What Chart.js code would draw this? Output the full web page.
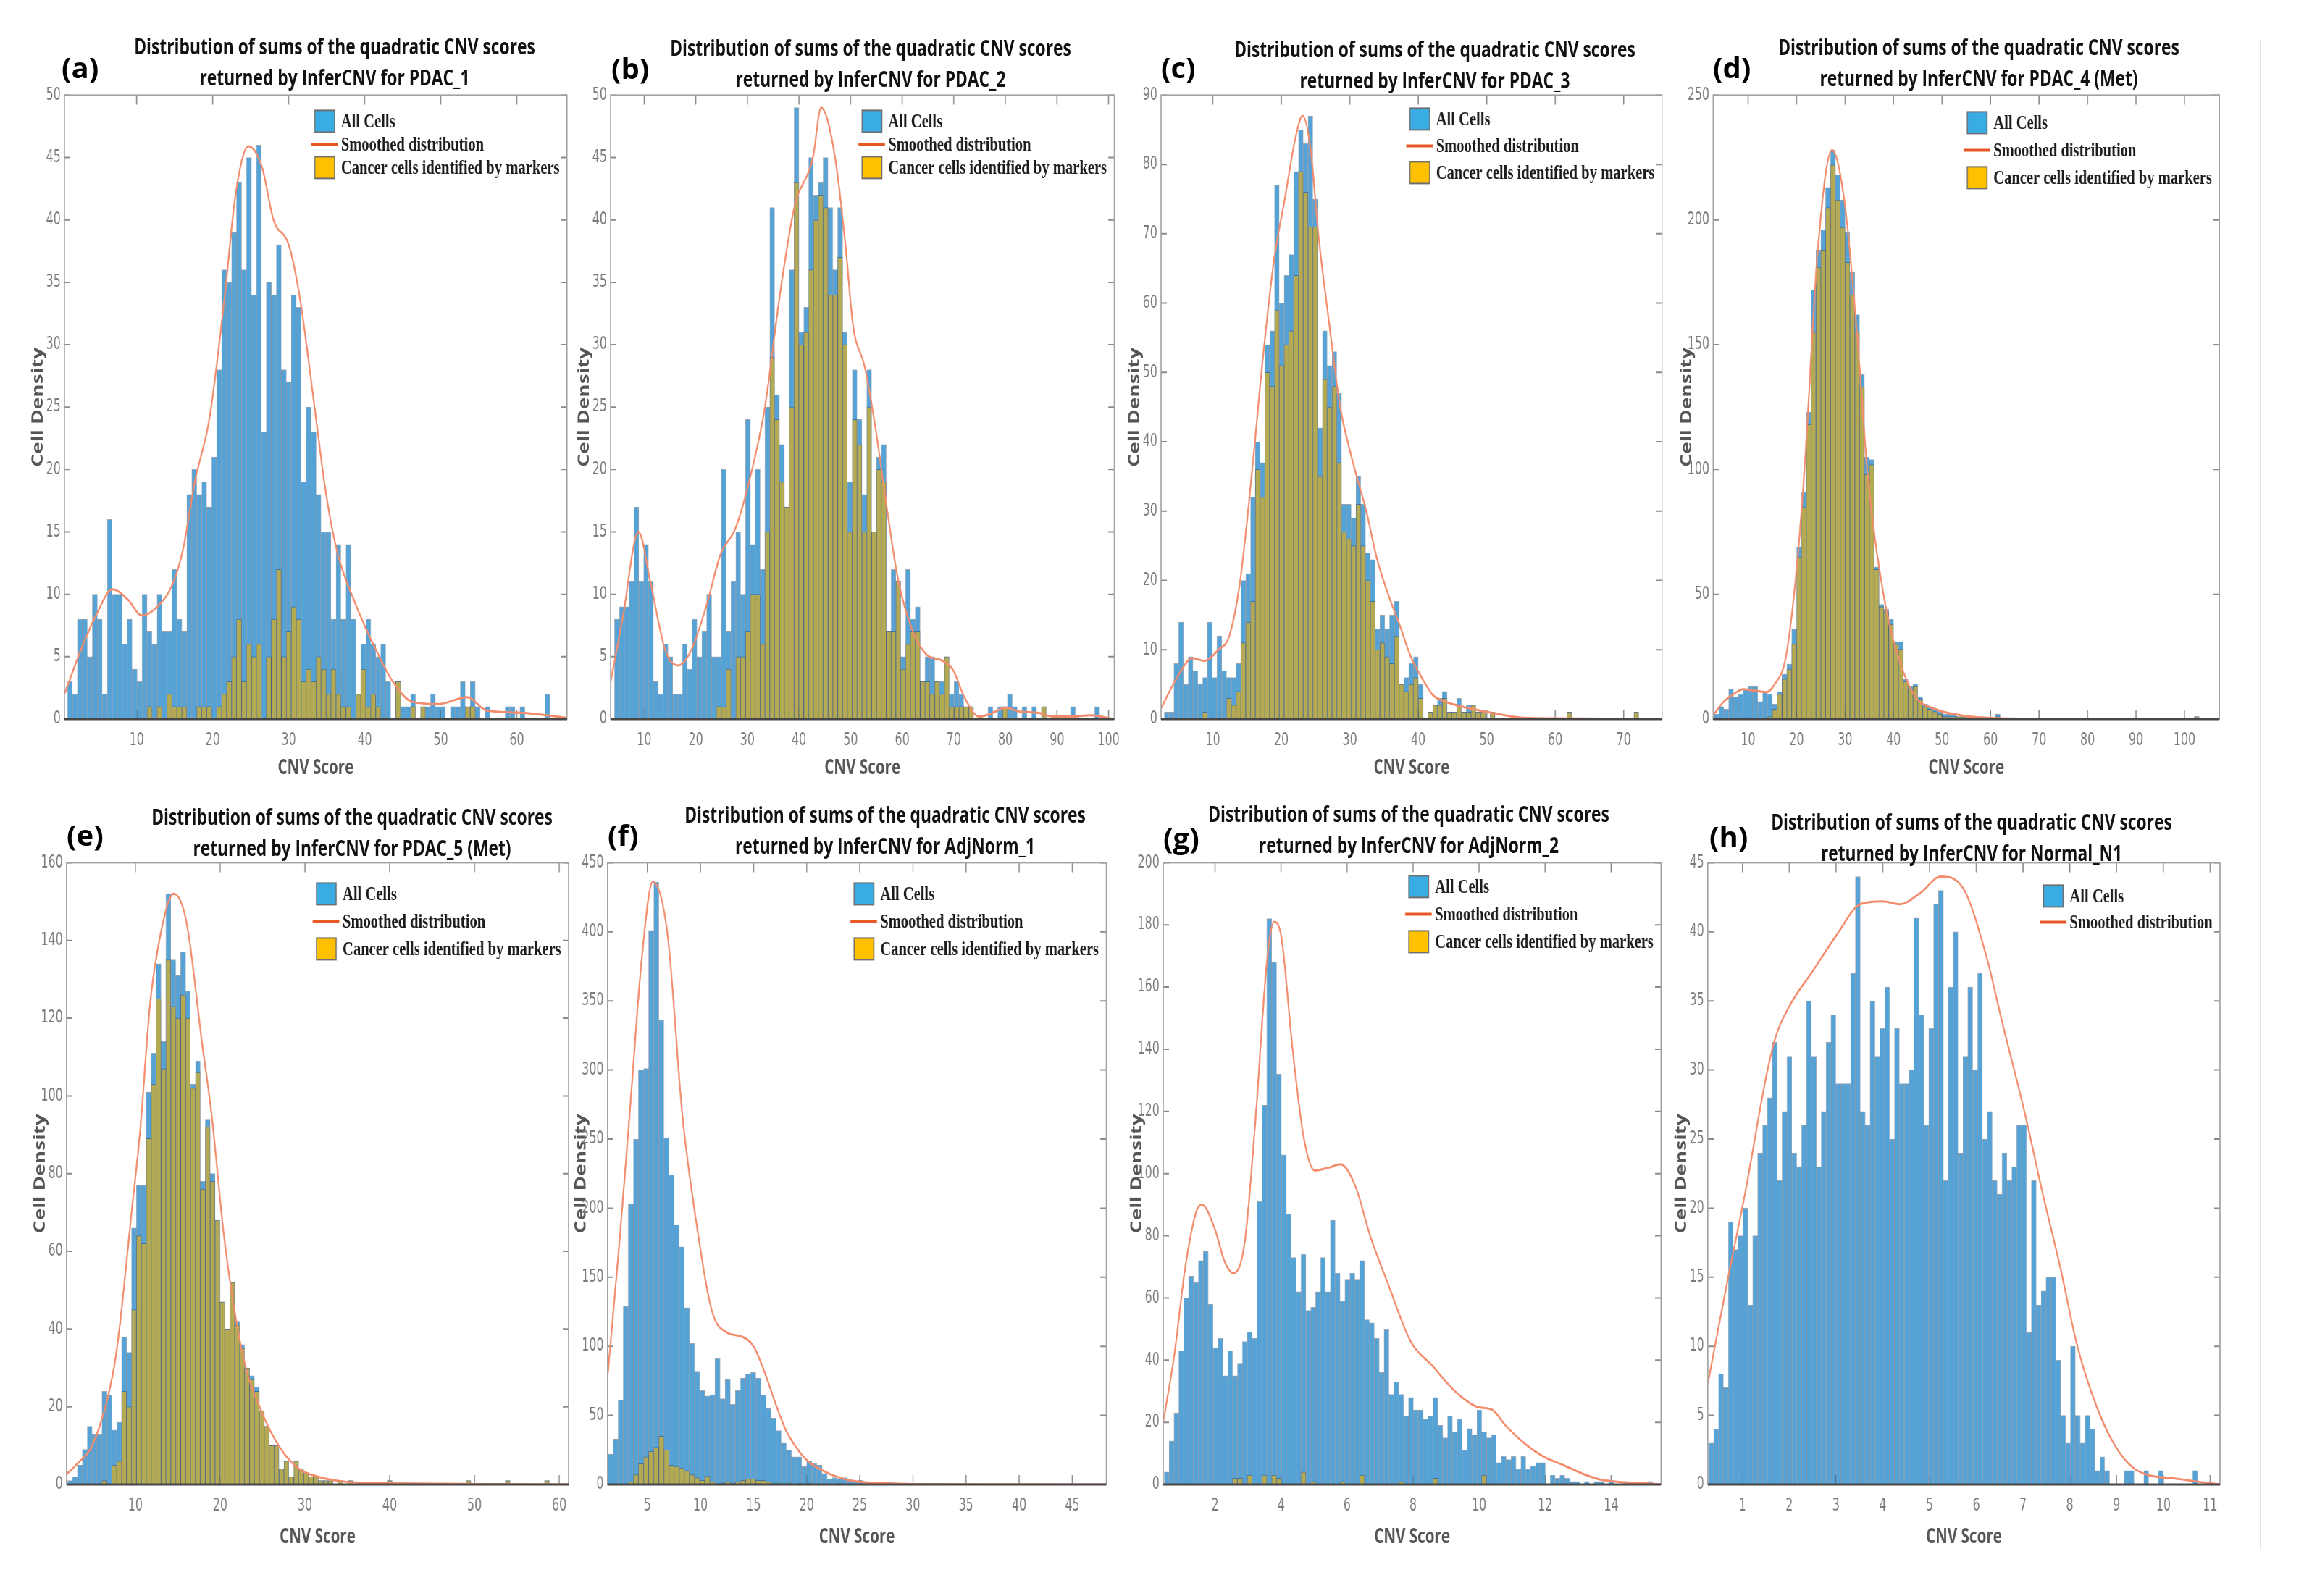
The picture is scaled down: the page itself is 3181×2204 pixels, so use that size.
<!DOCTYPE html>
<html><head><meta charset="utf-8">
<script src="https://cdn.jsdelivr.net/npm/chart.js"></script>
<style>
html,body{margin:0;padding:0;background:#fff;overflow:hidden;}
#page{position:relative;width:3181px;height:2204px;overflow:hidden;background:#fff;}
#squeeze{position:absolute;left:0;top:0;width:4328px;height:2204px;transform:scaleX(0.735);transform-origin:0 0;}
.ttl{position:absolute;width:1100px;text-align:center;font-family:'Open Sans',sans-serif;font-weight:700;font-size:31px;line-height:43px;color:#111;white-space:nowrap;}
.tag{position:absolute;font-family:'Open Sans',sans-serif;font-weight:700;font-size:40px;line-height:48px;color:#000;white-space:nowrap;}
#rule{position:absolute;left:3120px;top:55px;width:2px;height:2085px;background:#e4e4e4;}
</style></head><body>
<div id="page"><div id="squeeze"></div><div id="rule"></div></div>
<script>
// ---------------- DATA ----------------
// (a) PDAC_1
const binStartA = 0.9, binWidthA = 0.654;
const allA = [3,2,8,8,5,10,8,2,16,10,10,6,8,4,3,10,7,6,10,7,7,12,8,7,18,20,18,19,17,21,28,36,35,39,43,36,45,34,46,23,35,34,38,28,27,34,33,19,25,23,18,15,15,8,14,8,14,8,2,6,8,6,5,6,3,0,3,1,1,2,0,1,1,2,1,1,0,1,1,3,1,3,1,0,1,0,0,0,1,1,0,1,0,0,0,0,2];
const cancerA = [0,0,0,0,0,0,0,0,0,0,0,0,0,0,0,0,1,0,1,0,2,1,1,1,0,0,1,1,1,0,1,2,3,5,8,3,6,5,6,0,5,8,12,5,7,9,8,3,4,3,5,4,2,4,2,1,1,0,2,4,1,2,1,0,0,0,3,0,0,1,0,1,0,0,0,0,0,0,0,0,1,1,0,0,0,0,0,0,0,0,0,0,0,0,0,0,0];
const smoothXA = [0.5,2.9,4.8,6.8,8.8,10.7,12.7,14.7,16.1,17.6,19.6,21.6,23,24.7,26.5,28,30,31.4,33.4,34.8,36.3,38.8,41.2,43.7,46.2,49.6,53.5,56,60.9,66.6];
const smoothYA = [2,5.9,8.5,10.4,9.6,8.3,9,10.8,13.6,18.9,24.2,34,42,45.9,44.2,40,38,34,25,18.5,13.6,9.2,5.9,3,1.4,1.2,1.75,0.7,0.5,0.1];
const xTicksA = [10,20,30,40,50,60];
const yTicksA = [0,5,10,15,20,25,30,35,40,45,50];
const xRangeA = [0.5,66.6];

// (b) PDAC_2
const binStartB = 4.26, binWidthB = 0.94;
const allB = [8,9,9,11,17,11,14,11,3,2,6,5,2,2,6,4,8,5,7,10,5,5,20,7,11,15,10,24,14,20,12,25,41,26,22,17,36,49,31,33,45,42,43,45,41,36,41,31,19,28,24,18,28,15,21,22,7,12,11,5,12,8,9,3,5,5,3,3,5,2,3,2,1,1,0,0,0,1,0,1,1,2,1,0,1,0,1,0,1,0,0,0,0,0,1,0,0,0,0,1];
const cancerB = [0,0,0,0,0,0,0,0,0,0,0,0,0,0,0,0,0,0,0,0,0,1,1,4,0,5,5,7,10,10,6,15,29,24,19,17,25,43,30,31,36,40,42,41,34,34,37,30,15,24,22,15,25,15,20,19,7,7,11,4,6,7,7,3,3,2,3,2,5,1,1,1,1,1,0,0,0,0,0,0,1,0,0,0,0,0,0,0,1,0,0,0,0,0,0,0,0,0,0,0];
const smoothXB = [3.5,5.8,8.9,11.2,14.1,16.6,19.1,22,24.8,27.7,30.5,33.4,36.3,39.1,42.7,44.3,47,49,50.5,52.7,54.8,57,59.2,62,64.9,67.7,69.9,72,74.9,77,80,82.8,86.4,89.2,92.8,96.4,101.1];
const smoothYB = [3,8,15,11,5.5,4.3,5.5,9,13.2,15.3,19.3,25,34,41,45,49,45,38,31.5,28.3,23.4,17,11.2,7.1,5.1,4.7,3.9,1.8,0.2,0.4,0.9,0.6,0.5,0.2,0.2,0.3,0];
const xTicksB = [10,20,30,40,50,60,70,80,90,100];
const yTicksB = [0,5,10,15,20,25,30,35,40,45,50];
const xRangeB = [3.5,101.1];

// (c) PDAC_3
const binStartC = 2.9, binWidthC = 0.70;
const allC = [1,1,8,14,5,9,7,5,6,14,6,12,7,6,6,8,20,21,32,40,37,54,56,77,60,64,67,79,85,83,87,75,42,56,51,53,47,31,31,29,35,31,24,23,13,15,13,15,17,5,6,8,9,5,0,1,2,3,4,1,1,3,1,2,2,1,1,0,1,0,0,0,0,0,0,0,0,0,0,0,0,0,0,0,1,0,0,0,0,0,0,0,0,0,0,0,0,0,1,0];
const cancerC = [0,0,0,0,0,0,0,0,1,0,0,0,0,3,2,4,11,14,17,36,32,50,48,59,51,54,56,64,79,76,71,71,35,49,45,48,37,27,26,25,31,25,20,17,10,11,9,8,12,5,4,5,6,3,0,1,2,2,3,1,1,2,1,1,2,1,1,0,1,0,0,0,0,0,0,0,0,0,0,0,0,0,0,0,1,0,0,0,0,0,0,0,0,0,0,0,0,0,1,0];
const smoothXC = [2.4,4.9,7.0,8.7,10.8,12.4,14,15.7,17.3,18.9,20.5,22.1,23.1,24.3,25.4,27,28.6,30.2,32.4,34,35.6,37.3,38.9,40.5,42.1,43.7,46.4,49.1,51.8,55,59.9,75.6];
const smoothYC = [1.5,6.2,8.8,8.4,10,12,20,35.5,52,66,75,84,87,82,70,57,45,38,30,23,18,13.5,9,6,3.5,2.6,1.8,1.2,0.7,0.2,0.1,0];
const xTicksC = [10,20,30,40,50,60,70];
const yTicksC = [0,10,20,30,40,50,60,70,80,90];
const xRangeC = [2.44,75.6];

// (d) PDAC_4 (Met)
const binStartD = 3.0, binWidthD = 1.0;
const allD = [2,5,4,12,9,10,12,13,13,7,11,10,6,11,18,22,36,69,91,123,172,188,196,213,228,218,208,195,179,162,138,105,104,61,46,44,40,31,31,16,13,14,9,6,5,4,3,2,2,2,1,1,1,0,0,1,0,0,2,0,0,0,0,0,0,0,0,0,0,0,0,0,0,0,0,0,0,0,0,0,0,0,0,0,0,0,0,0,0,0,0,0,0,0,0,0,0,0,0,1];
const cancerD = [0,0,0,0,0,0,0,0,0,0,0,1,4,10,16,20,30,65,85,118,155,181,188,205,222,208,197,183,170,155,133,98,102,60,45,43,38,30,28,15,12,13,8,5,4,3,2,1,1,1,1,1,0,0,0,0,0,0,1,0,0,0,0,0,0,0,0,0,0,0,0,0,0,0,0,0,0,0,0,0,0,0,0,0,0,0,0,0,0,0,0,0,0,0,0,0,0,0,0,1];
const smoothXD = [3,5,7,9,11,13.7,15.5,17.8,20.2,21.8,24.3,27.3,29.9,32.4,34.8,38.1,41.3,44.5,48.6,54.3,60,70,107.2];
const smoothYD = [2,7,10,12,11.5,10.8,14,25,64,105,186,228,207,156,95,48,23,9,4,1.4,0.4,0.1,0];
const xTicksD = [10,20,30,40,50,60,70,80,90,100];
const yTicksD = [0,50,100,150,200,250];
const xRangeD = [2.8,107.2];

// (e) PDAC_5 (Met)
const binStartE = 2.0, binWidthE = 0.58;
const allE = [1,2,5,9,15,13,13,24,23,14,16,38,34,66,77,77,101,111,134,114,152,135,131,137,127,103,109,78,94,80,68,47,40,52,42,36,30,28,25,19,15,10,10,4,6,2,6,4,3,2,2,1,1,1,0,1,0,1,0,0,0,0,0,0,0,1,0,0,0,0,0,0,0,0,0,0,0,0,0,0,0,1,0,0,0,0,0,0,0,1,0,0,0,0,0,0,0,1,0,0];
const cancerE = [0,0,0,0,0,0,0,1,0,5,6,24,20,45,64,62,89,103,125,107,135,123,120,126,120,102,106,76,92,78,68,47,40,52,41,35,30,27,24,19,15,10,10,4,6,2,6,4,3,2,2,1,1,1,0,1,0,1,0,0,0,0,0,0,0,1,0,0,0,0,0,0,0,0,0,0,0,0,0,0,0,1,0,0,0,0,0,0,0,1,0,0,0,0,0,0,0,1,0,0];
const smoothXE = [1.9,3,5.1,7.3,8,9.5,10.6,11.7,13,14.5,16,17.9,19,20.5,22.7,24.9,27.1,29.3,31.5,33.7,36,40,50,61.1];
const smoothYE = [2.7,5,11,28,38,69,92,123,142,152,145,113,95,63,33,18.7,9.3,4,2,1,0.5,0.3,0.1,0];
const xTicksE = [10,20,30,40,50,60];
const yTicksE = [0,20,40,60,80,100,120,140,160];
const xRangeE = [1.88,61.1];

// (f) AdjNorm_1
const binStartF = 1.28, binWidthF = 0.48;
const allF = [22,33,61,129,203,250,300,301,401,436,336,251,224,188,172,128,102,82,68,64,65,91,62,76,58,68,77,80,81,77,65,55,48,39,30,25,20,20,13,17,15,14,8,4,5,4,5,3,2,3,2,1,2,1,1,1,1,0,1,0,0,0,0,0,0,0,0,0,0,0,0,0,0,0,0,0,0,0,0,0,0,0,0,0,0,0,0,0,0,0,0,0,0,0,0,0,0,0,0,0];
const cancerF = [0,0,0,0,2,7,15,20,24,27,35,25,14,13,12,10,7,5,3,6,2,0,1,2,1,2,3,4,4,3,3,2,1,1,0,1,0,1,0,1,0,0,0,0,0,1,0,0,0,0,0,0,0,0,0,0,0,0,0,0,0,0,0,0,0,0,0,0,0,0,0,0,0,0,0,0,0,0,0,0,0,0,0,0,0,0,0,0,0,0,0,0,0,0,0,0,0,0,0,0];
const smoothXF = [1.24,2.4,3.4,4.5,5.5,6.9,8.3,9.7,11.1,12.5,13.9,15,16,17,18,19,20.1,22.2,24.3,27,30,48.2];
const smoothYF = [77,178,275,383,436,398,267,185,125,110,107,100,82,60,40,27,17,7.5,2.6,1,0.3,0];
const xTicksF = [5,10,15,20,25,30,35,40,45];
const yTicksF = [0,50,100,150,200,250,300,350,400,450];
const xRangeF = [1.24,48.2];

// (g) AdjNorm_2
const binStartG = 0.46, binWidthG = 0.148;
const allG = [4,14,23,43,60,67,65,72,75,58,44,47,35,43,35,39,46,49,47,91,122,182,168,132,106,87,73,62,74,56,57,62,73,62,85,68,59,66,68,66,72,53,52,47,36,50,29,33,29,22,28,24,24,21,22,28,19,15,22,17,21,11,18,16,24,17,15,16,7,9,8,9,5,9,5,6,7,7,0,3,2,3,2,1,1,0,1,0,1,1,0,1,0,0,1,0,0,0,0,1];
const cancerG = [0,0,0,0,0,0,0,0,0,0,0,0,0,0,2,2,0,3,0,0,3,0,3,2,0,0,0,0,4,0,1,0,0,0,0,0,1,0,0,0,3,0,0,0,0,0,0,0,1,0,0,0,0,0,0,2,0,0,0,0,0,0,0,0,0,3,0,0,0,0,0,0,0,0,0,0,0,0,0,0,0,0,0,0,0,0,0,0,0,0,0,0,0,0,0,0,0,0,0,0];
const smoothXG = [0.43,0.77,1.1,1.44,1.6,2,2.28,2.56,2.9,3.23,3.57,3.79,4.01,4.35,4.68,5.02,5.47,5.8,6.25,6.7,7.26,7.93,8.6,9.27,9.94,10.4,10.8,11.4,11.95,12.6,13.2,13.7,14.4,15.1,15.51];
const smoothYG = [20,42,70,88,90,82,72,68,78,118,168,181,176,140,112,101,102,103,96,80,64,46,38,30,25,24,19,13,9,6,3.2,1.5,0.7,0.3,0];
const xTicksG = [2,4,6,8,10,12,14];
const yTicksG = [0,20,40,60,80,100,120,140,160,180,200];
const xRangeG = [0.43,15.51];

// (h) Normal_N1
const binStartH = 0.28, binWidthH = 0.1045;
const allH = [3,4,8,7,19,17,18,20,13,18,24,26,28,32,22,27,31,24,23,26,35,31,23,27,32,34,29,29,29,37,44,27,26,35,31,33,36,25,33,29,29,30,41,34,26,33,42,43,22,36,40,24,31,36,30,37,25,27,22,21,24,22,23,26,26,11,22,13,14,15,15,9,5,3,10,5,3,5,4,1,2,1,0,0,0,1,1,0,0,1,0,0,1,0,0,0,0,0,0,1];
const smoothXH = [0.26,0.66,1.08,1.5,1.71,2.0,2.51,3.02,3.52,4.0,4.36,4.8,5.24,5.71,6.21,6.55,7.05,7.39,7.81,8.14,8.48,8.9,9.4,10.33,11.21];
const smoothYH = [7.3,14.4,21.5,29.4,32.4,34.6,37.2,39.8,42,42.2,42,42.8,44,43.2,38.3,33.5,26.7,21.5,15.5,10.3,6.5,3.2,1.1,0.4,0];
const xTicksH = [1,2,3,4,5,6,7,8,9,10,11];
const yTicksH = [0,5,10,15,20,25,30,35,40,45];
const xRangeH = [0.26,11.21];

const sampleNames = ['PDAC_1','PDAC_2','PDAC_3','PDAC_4 (Met)','PDAC_5 (Met)','AdjNorm_1','AdjNorm_2','Normal_N1'];
const panelTags = ['(a)','(b)','(c)','(d)','(e)','(f)','(g)','(h)'];

// ---------------- LAYOUT / STYLE ----------------
const S = 0.735;               // horizontal squeeze of the whole figure
const W_Y = 66, PAD_R = 30, PAD_T = 20;
const BLUE = 'rgb(84,162,214)', OLIVE = 'rgb(181,170,84)', EDGE = 'rgba(35,60,90,0.45)', CURVE = 'rgb(242,140,108)';
const SW_BLUE = 'rgb(58,172,228)', SW_YELLOW = 'rgb(255,192,0)', SW_LINE = 'rgb(232,88,36)';
const TICK_FONT = "'Liberation Sans Narrow','Arial Narrow','DejaVu Sans Condensed','Liberation Sans',sans-serif";

const frames = [
  {L:89,  R:783,  T:130,  B:993,  hx:85, tx:462,  ty:63,   tagX:85,   tagY:93,   lgTop:36, lgPitch:32},
  {L:843, R:1538, T:130,  B:993,  hx:85, tx:1202, ty:65,   tagX:844,  tagY:94,   lgTop:36, lgPitch:32},
  {L:1603,R:2295, T:130,  B:993,  hx:85, tx:1981, ty:67,   tagX:1603, tagY:93,   lgTop:33, lgPitch:37},
  {L:2365,R:3064, T:130,  B:993,  hx:85, tx:2732, ty:64,   tagX:2365, tagY:93,   lgTop:38, lgPitch:38},
  {L:92,  R:785,  T:1190, B:2050, hx:90, tx:486,  ty:1127, tagX:92,   tagY:1153, lgTop:43, lgPitch:38},
  {L:839, R:1528, T:1190, B:2050, hx:90, tx:1222, ty:1124, tagX:839,  tagY:1153, lgTop:43, lgPitch:38},
  {L:1606,R:2293, T:1190, B:2050, hx:90, tx:1945, ty:1123, tagX:1606, tagY:1157, lgTop:33, lgPitch:38},
  {L:2358,R:3065, T:1190, B:2050, hx:90, tx:2722, ty:1134, tagX:2360, tagY:1155, lgTop:46, lgPitch:36}
];

const panels = [
  {bs:binStartA, bw:binWidthA, all:allA, cancer:cancerA, sx:smoothXA, sy:smoothYA, xt:xTicksA, yt:yTicksA, xr:xRangeA},
  {bs:binStartB, bw:binWidthB, all:allB, cancer:cancerB, sx:smoothXB, sy:smoothYB, xt:xTicksB, yt:yTicksB, xr:xRangeB},
  {bs:binStartC, bw:binWidthC, all:allC, cancer:cancerC, sx:smoothXC, sy:smoothYC, xt:xTicksC, yt:yTicksC, xr:xRangeC},
  {bs:binStartD, bw:binWidthD, all:allD, cancer:cancerD, sx:smoothXD, sy:smoothYD, xt:xTicksD, yt:yTicksD, xr:xRangeD},
  {bs:binStartE, bw:binWidthE, all:allE, cancer:cancerE, sx:smoothXE, sy:smoothYE, xt:xTicksE, yt:yTicksE, xr:xRangeE},
  {bs:binStartF, bw:binWidthF, all:allF, cancer:cancerF, sx:smoothXF, sy:smoothYF, xt:xTicksF, yt:yTicksF, xr:xRangeF},
  {bs:binStartG, bw:binWidthG, all:allG, cancer:cancerG, sx:smoothXG, sy:smoothYG, xt:xTicksG, yt:yTicksG, xr:xRangeG},
  {bs:binStartH, bw:binWidthH, all:allH, cancer:null,    sx:smoothXH, sy:smoothYH, xt:xTicksH, yt:yTicksH, xr:xRangeH}
];

function bins(start, width, counts) { return counts.map((c, i) => ({x: start + (i + 0.5) * width, y: c})); }
function curve(xs, ys) { return xs.map((x, i) => ({x: x, y: ys[i]})); }

// MATLAB-like box with inward ticks on all sides
const framePlugin = {
  id: 'matlabFrame',
  beforeDatasetsDraw(chart) {
    const {ctx, chartArea: a, scales} = chart;
    ctx.save();
    ctx.strokeStyle = '#8a8a8a'; ctx.lineWidth = 2;
    ctx.beginPath();
    scales.x.ticks.forEach(t => {
      const px = scales.x.getPixelForValue(t.value);
      ctx.moveTo(px, a.bottom); ctx.lineTo(px, a.bottom - 13);
      ctx.moveTo(px, a.top); ctx.lineTo(px, a.top + 13);
    });
    scales.y.ticks.forEach(t => {
      const py = scales.y.getPixelForValue(t.value);
      ctx.moveTo(a.left, py); ctx.lineTo(a.left + 11, py);
      ctx.moveTo(a.right, py); ctx.lineTo(a.right - 11, py);
    });
    ctx.stroke();
    ctx.restore();
  },
  afterDatasetsDraw(chart) {
    const {ctx, chartArea: a} = chart;
    ctx.save();
    ctx.strokeStyle = '#a2a2a2'; ctx.lineWidth = 2;
    ctx.strokeRect(a.left, a.top, a.right - a.left, a.bottom - a.top);
    ctx.strokeStyle = '#474747'; ctx.lineWidth = 3;
    ctx.beginPath(); ctx.moveTo(a.left, a.bottom); ctx.lineTo(a.right, a.bottom); ctx.stroke();
    ctx.restore();
  }
};

// Legend drawn inside the plot, right-aligned like the MATLAB one
const boxLegend = {
  id: 'boxLegend',
  afterDraw(chart, args, opts) {
    const {ctx, chartArea: a} = chart;
    const items = chart.data.datasets.map(d => ({text: d.label, kind: d.legendKind, color: d.legendColor}));
    ctx.save();
    ctx.font = "bold 28px 'Liberation Serif','Times New Roman',serif";
    const tw = Math.max(...items.map(i => ctx.measureText(i.text).width));
    const textX = a.right - 14 - tw;
    const boxW = 37, boxH = 30, gap = 12;
    const boxX = textX - gap - boxW;
    items.forEach((it, k) => {
      const cy = a.top + opts.firstRow + k * opts.pitch;
      if (it.kind === 'box') {
        ctx.fillStyle = it.color; ctx.fillRect(boxX, cy - boxH / 2, boxW, boxH);
        ctx.strokeStyle = '#6e6e6e'; ctx.lineWidth = 2; ctx.strokeRect(boxX, cy - boxH / 2, boxW, boxH);
      } else {
        ctx.strokeStyle = it.color; ctx.lineWidth = 4;
        ctx.beginPath(); ctx.moveTo(boxX - 7, cy); ctx.lineTo(boxX + boxW + 6, cy); ctx.stroke();
      }
      ctx.fillStyle = '#1c1c1c'; ctx.textBaseline = 'middle'; ctx.textAlign = 'left';
      ctx.fillText(it.text, textX, cy + 1);
    });
    ctx.restore();
  }
};

Chart.defaults.font.family = "'Liberation Sans',sans-serif";
const squeeze = document.getElementById('squeeze');
const page = document.getElementById('page');

panels.forEach((p, idx) => {
  const f = frames[idx];
  const plotW = (f.R - f.L) / S, plotH = f.B - f.T;
  const cw = Math.round(W_Y + plotW + PAD_R), ch = Math.round(PAD_T + plotH + f.hx);
  const canvas = document.createElement('canvas');
  canvas.width = cw; canvas.height = ch;
  canvas.style.cssText = 'position:absolute;left:' + (f.L / S - W_Y) + 'px;top:' + (f.T - PAD_T) + 'px;width:' + cw + 'px;height:' + ch + 'px;';
  squeeze.appendChild(canvas);

  const ttl = document.createElement('div');
  ttl.className = 'ttl';
  ttl.style.left = (f.tx / S - 550) + 'px';
  ttl.style.top = (f.ty - 21.5) + 'px';
  ttl.innerHTML = 'Distribution of sums of the quadratic CNV scores<br>returned by InferCNV for ' + sampleNames[idx];
  squeeze.appendChild(ttl);

  const tag = document.createElement('div');
  tag.className = 'tag';
  tag.style.left = f.tagX + 'px';
  tag.style.top = (f.tagY - 24) + 'px';
  tag.textContent = panelTags[idx];
  page.appendChild(tag);

  const datasets = [
    {type: 'bar', label: 'All Cells', data: bins(p.bs, p.bw, p.all), backgroundColor: BLUE, borderColor: EDGE,
     borderWidth: 1, borderSkipped: 'start', grouped: false, barPercentage: 1, categoryPercentage: 1, order: 3,
     legendKind: 'box', legendColor: SW_BLUE},
    {type: 'line', label: 'Smoothed distribution', data: curve(p.sx, p.sy), borderColor: CURVE, borderWidth: 3,
     pointRadius: 0, fill: false, cubicInterpolationMode: 'monotone', order: 1, legendKind: 'line', legendColor: SW_LINE}
  ];
  if (p.cancer) {
    datasets.push({type: 'bar', label: 'Cancer cells identified by markers', data: bins(p.bs, p.bw, p.cancer),
      backgroundColor: OLIVE, borderColor: EDGE, borderWidth: 1, borderSkipped: 'start', grouped: false,
      barPercentage: 1, categoryPercentage: 1, order: 2, legendKind: 'box', legendColor: SW_YELLOW});
  }

  new Chart(canvas, {
    type: 'bar',
    data: {datasets: datasets},
    options: {
      responsive: false, animation: false, devicePixelRatio: 1,
      layout: {padding: {left: 0, right: PAD_R, top: PAD_T, bottom: 0}},
      plugins: {legend: {display: false}, tooltip: {enabled: false}, title: {display: false},
                boxLegend: {firstRow: f.lgTop, pitch: f.lgPitch}},
      scales: {
        x: {type: 'linear', min: p.xr[0], max: p.xr[1], offset: false,
            grid: {display: false, drawTicks: false}, border: {display: false},
            afterBuildTicks: s => { s.ticks = p.xt.map(v => ({value: v})); },
            afterFit: s => { s.height = f.hx; },
            ticks: {autoSkip: false, maxRotation: 0, minRotation: 0, padding: 15, color: '#7c7c7c',
                    font: {family: TICK_FONT, size: 24}, callback: v => String(v)},
            title: {display: true, text: 'CNV Score', color: '#555', padding: 0,
                    font: {family: "'Open Sans',sans-serif", size: 28, weight: 'bold', lineHeight: 1.2}}},
        y: {type: 'linear', min: 0, max: p.yt[p.yt.length - 1],
            grid: {display: false, drawTicks: false}, border: {display: false},
            afterBuildTicks: s => { s.ticks = p.yt.map(v => ({value: v})); },
            afterFit: s => { s.width = W_Y; },
            ticks: {autoSkip: false, padding: 7, color: '#7c7c7c', font: {family: TICK_FONT, size: 24}, callback: v => String(v)},
            title: {display: true, text: 'Cell Density', color: '#555', padding: 0,
                    font: {family: "'Open Sans',sans-serif", size: 28, weight: 'bold', lineHeight: 1.2}}}
      }
    },
    plugins: [framePlugin, boxLegend]
  });
});
</script>
</body></html>
